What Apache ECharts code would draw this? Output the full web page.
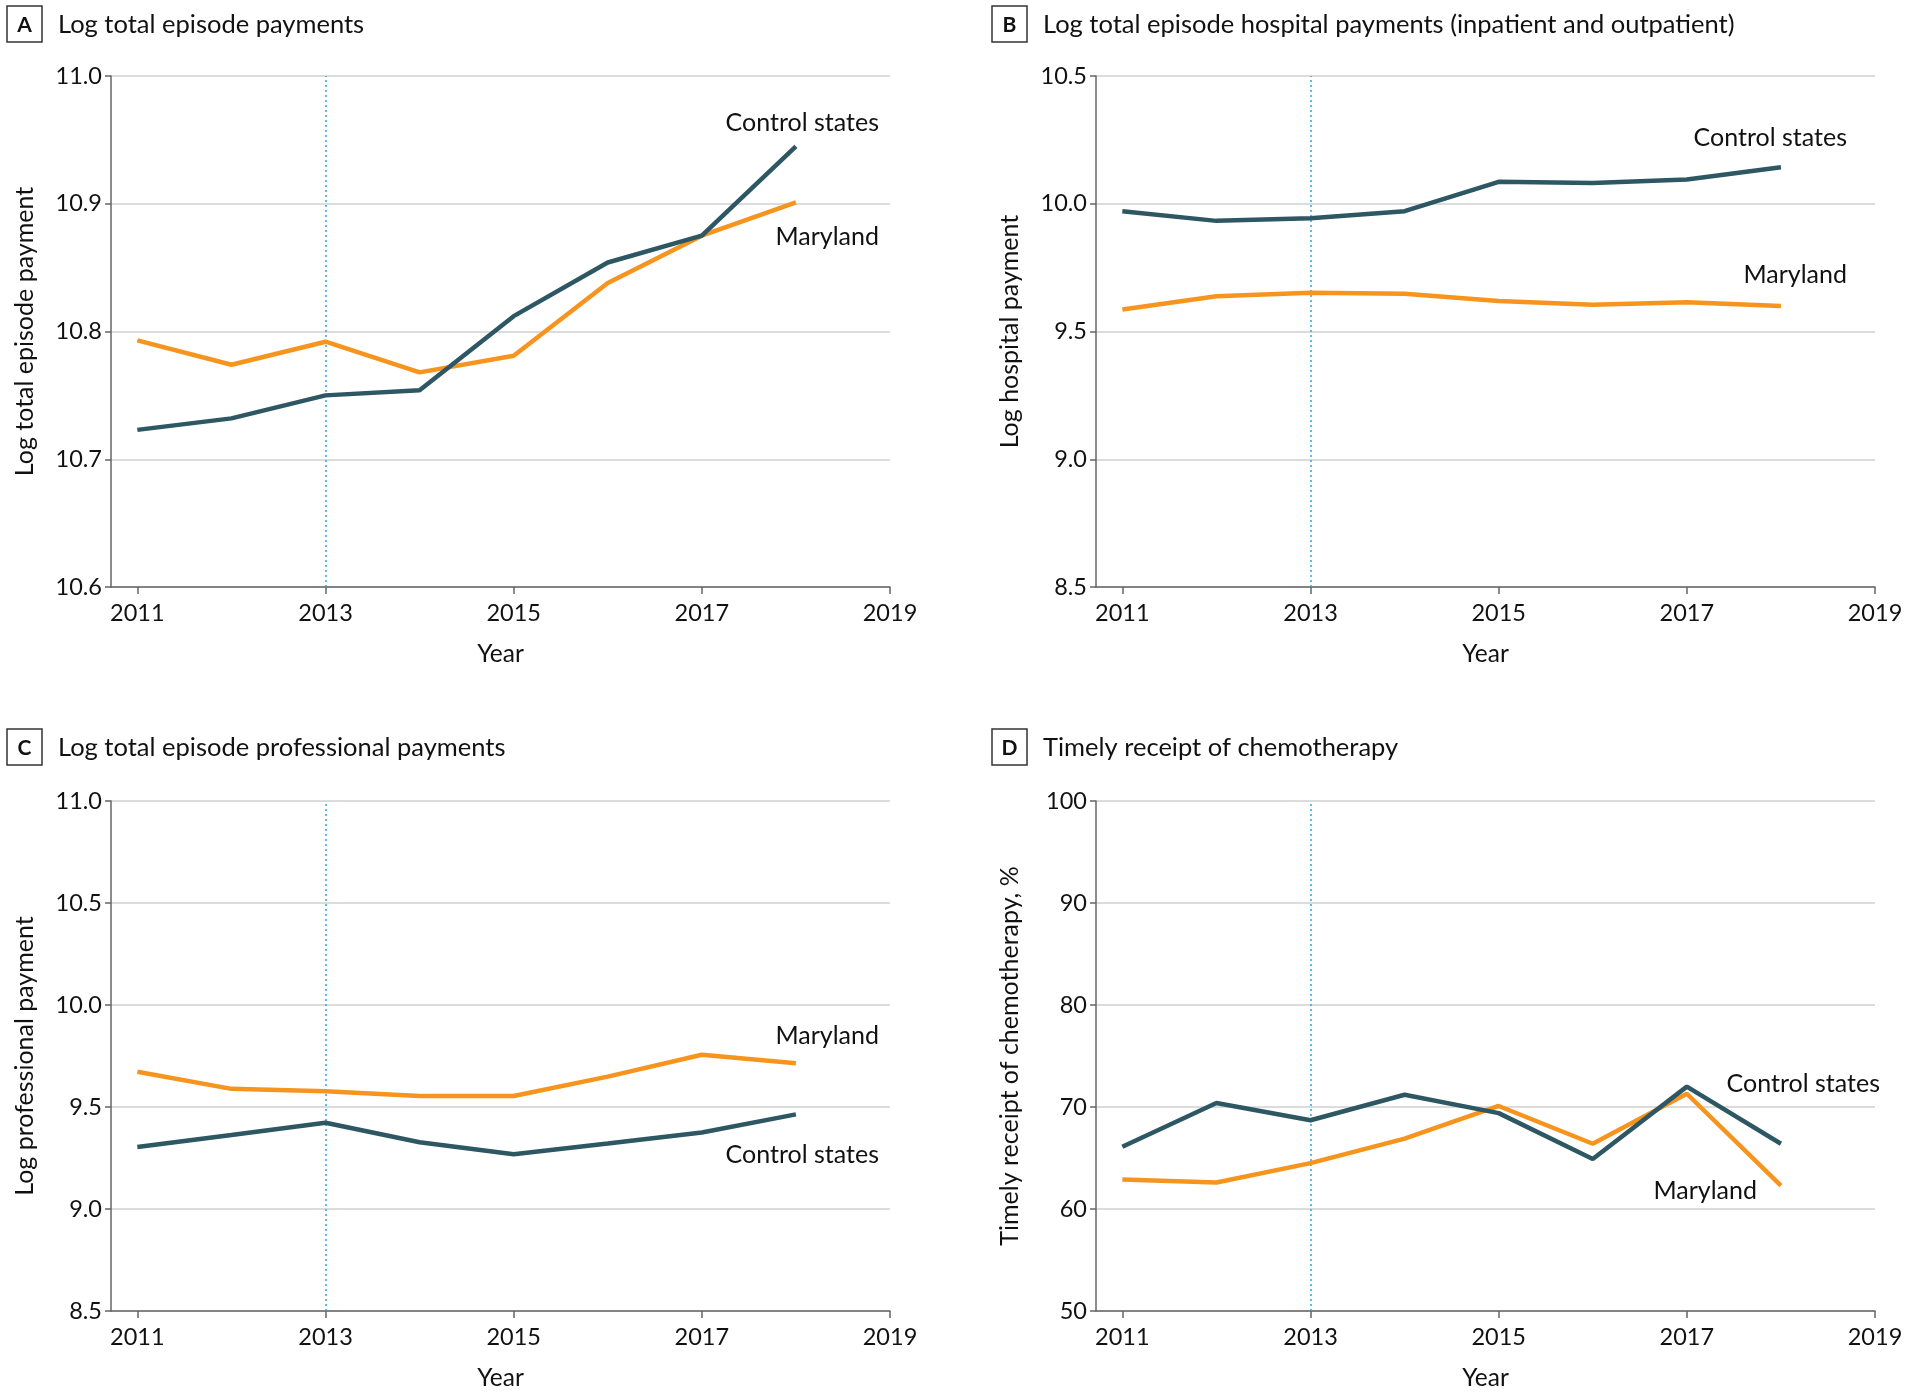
<!DOCTYPE html>
<html>
<head>
<meta charset="utf-8">
<script src="https://cdn.jsdelivr.net/npm/echarts@6/dist/echarts.min.js"></script>
<style>
html,body{margin:0;padding:0;background:#fff;}
#chart{width:1906px;height:1392px;}
</style>
</head>
<body>
<div id="chart"></div>
<script>
// ---- Data ----
const years = [2011, 2012, 2013, 2014, 2015, 2016, 2017, 2018];
const xTicks = [2011, 2013, 2015, 2017, 2019];
const policyYear = 2013;

// A: Log total episode payments
const aControl  = [10.723, 10.732, 10.750, 10.754, 10.812, 10.854, 10.875, 10.945];
const aMaryland = [10.793, 10.774, 10.792, 10.768, 10.781, 10.838, 10.875, 10.901];
// B: Log total episode hospital payments
const bControl  = [9.971, 9.933, 9.943, 9.971, 10.086, 10.081, 10.095, 10.143];
const bMaryland = [9.586, 9.638, 9.652, 9.648, 9.619, 9.605, 9.614, 9.600];
// C: Log total episode professional payments
const cControl  = [9.304, 9.363, 9.423, 9.327, 9.268, 9.321, 9.375, 9.464];
const cMaryland = [9.673, 9.589, 9.577, 9.554, 9.554, 9.649, 9.756, 9.714];
// D: Timely receipt of chemotherapy, %
const dControl  = [66.1, 70.4, 68.7, 71.2, 69.4, 64.9, 72.0, 66.4];
const dMaryland = [62.9, 62.6, 64.5, 66.9, 70.1, 66.4, 71.3, 62.3];

const panelLetters = ['A', 'B', 'C', 'D'];
const panelTitles = [
  'Log total episode payments',
  'Log total episode hospital payments (inpatient and outpatient)',
  'Log total episode professional payments',
  'Timely receipt of chemotherapy'
];
const yNames = ['Log total episode payment', 'Log hospital payment', 'Log professional payment', 'Timely receipt of chemotherapy, %'];
const yMin = [10.6, 8.5, 8.5, 50];
const yMax = [11.0, 10.5, 11.0, 100];
const yStep = [0.1, 0.5, 0.5, 10];
const yDecimals = [1, 1, 1, 0];
const seriesNames = ['Control states', 'Maryland'];

// ---- Style ----
const FONT = 'Lato';
const TEAL = '#2e5764';
const ORANGE = '#f7941d';
const AXIS = '#666';

const gridPos = [
  {left: 111, top: 76, width: 779, height: 511},
  {left: 1096, top: 76, width: 779, height: 511},
  {left: 111, top: 801, width: 779, height: 511},
  {left: 1096, top: 801, width: 779, height: 511}
];

const controlSets = [aControl, bControl, cControl, dControl];
const marylandSets = [aMaryland, bMaryland, cMaryland, dMaryland];
const pairs = arr => years.map((y, i) => [y, arr[i]]);

const grids = [], xAxes = [], yAxes = [], series = [];
for (let i = 0; i < 4; i++) {
  grids.push(Object.assign({containLabel: false}, gridPos[i]));
  xAxes.push({
    type: 'value', gridIndex: i, min: 2010.72, max: 2019,
    name: 'Year', nameLocation: 'middle', nameGap: 55,
    nameTextStyle: {fontFamily: FONT, fontSize: 24.5, color: '#111'},
    axisLine: {show: true, lineStyle: {color: AXIS, width: 1.5}},
    axisTick: {show: true, length: 7, lineStyle: {color: AXIS, width: 1.5}, customValues: xTicks},
    axisLabel: {fontFamily: FONT, fontSize: 23.5, color: '#111', margin: 14, customValues: xTicks,
      formatter: v => String(v)},
    splitLine: {show: false}
  });
  const dec = yDecimals[i];
  yAxes.push({
    type: 'value', gridIndex: i, min: yMin[i], max: yMax[i], interval: yStep[i],
    name: yNames[i], nameLocation: 'middle', nameGap: 74, nameRotate: 90,
    nameTextStyle: {fontFamily: FONT, fontSize: 25, color: '#111'},
    axisLine: {show: true, lineStyle: {color: AXIS, width: 1.5}},
    axisTick: {show: true, length: 6, lineStyle: {color: AXIS, width: 1.5}},
    axisLabel: {fontFamily: FONT, fontSize: 23.5, color: '#111', margin: 9,
      formatter: v => Number(v).toFixed(dec)},
    splitLine: {show: true, lineStyle: {color: '#dcdcdc', width: 2}}
  });
  series.push({
    type: 'line', name: seriesNames[1], xAxisIndex: i, yAxisIndex: i,
    data: pairs(marylandSets[i]), showSymbol: false, symbol: 'none',
    lineStyle: {color: ORANGE, width: 4.5}, itemStyle: {color: ORANGE},
    z: 3,
    markLine: {
      silent: true, symbol: ['none', 'none'], label: {show: false},
      lineStyle: {type: [2, 3], color: '#29a8df', width: 1.5},
      data: [{xAxis: policyYear}], z: 1
    }
  });
  series.push({
    type: 'line', name: seriesNames[0], xAxisIndex: i, yAxisIndex: i,
    data: pairs(controlSets[i]), showSymbol: false, symbol: 'none',
    lineStyle: {color: TEAL, width: 4.5}, itemStyle: {color: TEAL},
    z: 4
  });
}

// Panel headers and line labels
const graphics = [];
const boxPos = [[7, 6], [992, 6], [7, 729], [992, 729]];
const titleX = [58, 1043, 58, 1043];
for (let i = 0; i < 4; i++) {
  const [bx, by] = boxPos[i];
  graphics.push({type: 'rect', shape: {x: bx, y: by, width: 35, height: 36},
    style: {fill: '#fff', stroke: '#333', lineWidth: 1.5}});
  graphics.push({type: 'text', x: bx + 17.5, y: by + 19,
    style: {text: panelLetters[i], font: 'bold 21px ' + FONT, fill: '#111', align: 'center', verticalAlign: 'middle'}});
  graphics.push({type: 'text', x: titleX[i], y: by + 19,
    style: {text: panelTitles[i], font: '25.5px ' + FONT, fill: '#111', align: 'left', verticalAlign: 'middle'}});
}
const lineLabels = [
  ['Control states', 879, 123], ['Maryland', 879, 237],
  ['Control states', 1847, 138], ['Maryland', 1847, 275],
  ['Maryland', 879, 1036], ['Control states', 879, 1155],
  ['Control states', 1880, 1084], ['Maryland', 1757, 1191]
];
lineLabels.forEach(([t, x, y]) => {
  graphics.push({type: 'text', x: x, y: y,
    style: {text: t, font: '25px ' + FONT, fill: '#111', align: 'right', verticalAlign: 'middle'}});
});

const chart = echarts.init(document.getElementById('chart'), null, {renderer: 'canvas'});
chart.setOption({
  animation: false,
  backgroundColor: '#fff',
  grid: grids, xAxis: xAxes, yAxis: yAxes, series: series,
  graphic: graphics
});
</script>
</body>
</html>
